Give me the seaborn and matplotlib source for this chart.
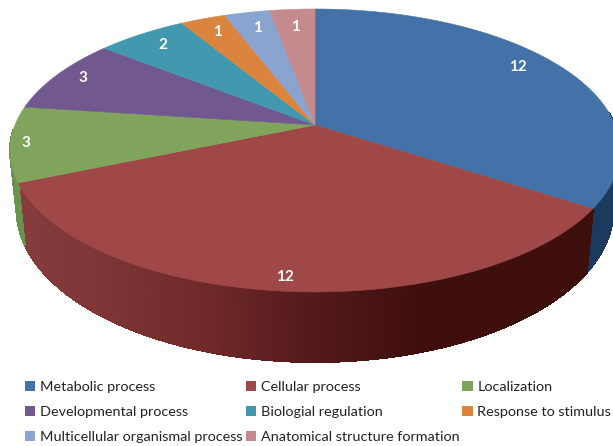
import numpy as np
import matplotlib
matplotlib.use("Agg")
import matplotlib.pyplot as plt
import matplotlib.colors as mc
from matplotlib.collections import PolyCollection, LineCollection
from matplotlib.patches import Patch
import seaborn as sns

categories = ["Metabolic process", "Cellular process", "Localization",
              "Developmental process", "Biologial regulation", "Response to stimulus",
              "Multicellular organismal process", "Anatomical structure formation"]
values = [12, 12, 3, 3, 2, 1, 1, 1]
colors = ["#4272a8", "#a04848", "#80a45c", "#71588f",
          "#4198af", "#db843d", "#89a5cf", "#c48a8e"]

# Label nudges (pixels) from the common label radius
label_dx = [-13, -2, -22, -4, 3, 3, 3, 1]
label_dy = [-5, 10, 1, -2, 1, 2, 4, 6]

sns.set_theme(style="white")
plt.rcParams["font.family"] = ["Lato", "DejaVu Sans"]
palette = sns.color_palette(colors)

CX, CY, BX, BY, K, D = 315.0, 125.0, 300.0, 136.9, 0.18, 57.4


def project(theta, r=1.0):
    """Clockwise angle from 12 o'clock to the tilted pie's pixel position."""
    u, v = r * np.sin(theta), r * np.cos(theta)
    den = 1 + K * v
    return CX + BX * u / den, CY - BY * v / den, D / den


def wall_colour(x, i):
    if i == 1:
        stops = ([18, 110, 200, 320, 420, 600],
                 ["#863c3c", "#7c3434", "#702a2a", "#52181a", "#3e0f0d", "#3e0f0d"])
        rgb = np.array([mc.to_rgb(c) for c in stops[1]])
        return tuple(np.interp(x, stops[0], rgb[:, k]) for k in range(3))
    return mc.to_rgb({0: "#1c3a5e", 2: "#6a9350"}.get(i, "#555555"))


fig = plt.figure(figsize=(6.13, 4.46), dpi=100)
ax = fig.add_axes([0, 0, 1, 1])
ax.set_xlim(0, 613)
ax.set_ylim(446, 0)
ax.axis("off")

edges = np.cumsum([0] + values) / sum(values) * 2 * np.pi
wall_limits = [(np.radians(85), edges[1]), (edges[1], edges[2]), (edges[2], np.radians(268))]

for i, (a0, a1) in enumerate(wall_limits):
    t = np.linspace(a0, a1, 300)
    x, y, d = project(t)
    xb = CX + (x - CX) * 0.978
    yb = y + d
    polys, cols, segs = [], [], []
    for j in range(len(t) - 1):
        polys.append([(x[j], y[j]), (x[j + 1], y[j + 1]), (xb[j + 1], yb[j + 1]), (xb[j], yb[j])])
        segs.append([(xb[j], yb[j]), (xb[j + 1], yb[j + 1])])
        cols.append(wall_colour((x[j] + x[j + 1]) / 2, i))
    ax.add_collection(PolyCollection(polys, facecolors=cols, edgecolors=cols, linewidths=0.8,
                                     antialiaseds=False, zorder=1))
    ax.add_collection(LineCollection(segs, colors=cols, linewidths=1.0, capstyle="round", zorder=1))

for i, val in enumerate(values):
    t = np.linspace(edges[i], edges[i + 1], 80)
    x, y, _ = project(t)
    ax.fill(np.r_[CX, x], np.r_[CY, y], color=palette[i], lw=0.4, zorder=2)
    mid = (edges[i] + edges[i + 1]) / 2
    lx, ly, _ = project(mid, 0.88)
    ax.text(lx + label_dx[i], ly + label_dy[i], str(val), color="white", fontsize=11,
            fontweight="bold", ha="center", va="center", zorder=3)

handles = [Patch(facecolor=c, edgecolor="none") for c in palette]
order = [0, 3, 6, 1, 4, 7, 2, 5]
ax.legend([handles[i] for i in order], [categories[i] for i in order], ncol=3,
          loc="upper left", bbox_to_anchor=(25 / 613, 1 - 380.5 / 446), frameon=False,
          fontsize=10.35, labelcolor="#222222", handlelength=0.72, handleheight=0.72,
          handletextpad=0.32, columnspacing=0.22, labelspacing=0.9, borderpad=0, borderaxespad=0)

fig.savefig("out.png", dpi=100)
